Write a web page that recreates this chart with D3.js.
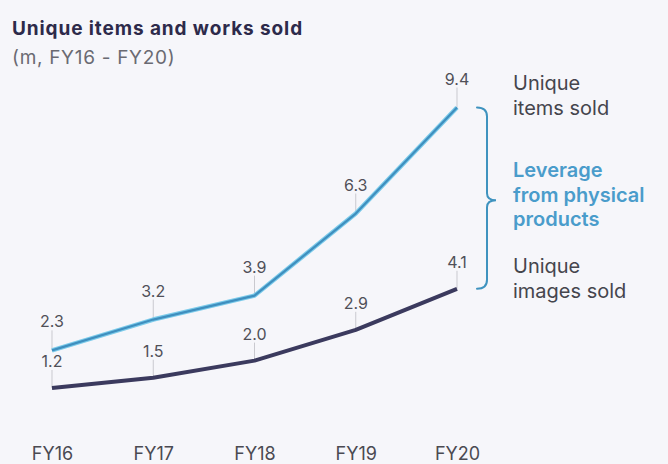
<!DOCTYPE html>
<html>
<head>
<meta charset="utf-8">
<script src="https://cdn.jsdelivr.net/npm/d3@7"></script>
<style>
  html, body { margin: 0; padding: 0; background: #f6f6fa; }
  svg { display: block; font-family: Inter, "Noto Sans", sans-serif; }
</style>
</head>
<body>
<svg id="chart" width="668" height="464"></svg>
<script>
// Fiscal years on the x axis
const years = ["FY16", "FY17", "FY18", "FY19", "FY20"];
// Unique items sold (m)
const itemsSold = [2.3, 3.2, 3.9, 6.3, 9.4];
// Unique images sold (m)
const imagesSold = [1.2, 1.5, 2.0, 2.9, 4.1];

const svg = d3.select("#chart");
const W = 668, H = 464;

svg.append("rect").attr("width", W).attr("height", H).attr("fill", "#f6f6fa");

const x = d3.scalePoint().domain(years).range([52, 457]);
const y = d3.scaleLinear().domain([0, 10]).range([429, 87]);

// Title block
svg.append("text").attr("x", 12).attr("y", 35)
  .attr("font-size", 19).attr("font-weight", 700).attr("fill", "#2d2a4a")
  .attr("letter-spacing", 0.9)
  .text("Unique items and works sold");
svg.append("text").attr("x", 12).attr("y", 64)
  .attr("font-size", 19).attr("fill", "#6a6a72")
  .attr("letter-spacing", 0.7)
  .text("(m, FY16 - FY20)");

// x axis labels (no axis line)
const xAxis = d3.axisBottom(x).tickSize(0).tickPadding(0);
const gx = svg.append("g").attr("transform", "translate(0,446)").call(xAxis);
gx.select(".domain").remove();
gx.selectAll("text")
  .attr("dy", null).attr("y", 14)
  .attr("font-size", 18).attr("fill", "#4a4a52")
  .attr("font-family", "Inter, 'Noto Sans', sans-serif");

// Leader lines and value labels
function labels(values, cls, off) {
  const g = svg.append("g").attr("class", cls);
  g.selectAll("line").data(values).join("line")
    .attr("x1", (d, i) => x(years[i]))
    .attr("x2", (d, i) => x(years[i]))
    .attr("y1", d => y(d) - off + 3)
    .attr("y2", d => y(d))
    .attr("stroke", "#c9c9cf").attr("stroke-width", 1);
  g.selectAll("text").data(values).join("text")
    .attr("x", (d, i) => x(years[i]))
    .attr("y", d => y(d) - off)
    .attr("text-anchor", "middle")
    .attr("font-size", 16).attr("fill", "#505058")
    .text(d => d.toFixed(1));
}
labels(imagesSold, "images-labels", 21);
labels(itemsSold, "items-labels", 23);

const line = d3.line().x((d, i) => x(years[i])).y(d => y(d));

// Images line
svg.append("path").datum(imagesSold).attr("d", line)
  .attr("fill", "none").attr("stroke", "#3b3a5e").attr("stroke-width", 4)
  .attr("stroke-linejoin", "round");

// Items line: light halo with darker core
svg.append("path").datum(itemsSold).attr("d", line)
  .attr("fill", "none").attr("stroke", "#7ccbea").attr("stroke-width", 4.5)
  .attr("stroke-linejoin", "round");
svg.append("path").datum(itemsSold).attr("d", line)
  .attr("fill", "none").attr("stroke", "#3f8fbf").attr("stroke-width", 2.2)
  .attr("stroke-linejoin", "round");

// Curly brace between the two end points
const yTop = y(itemsSold[4]), yBot = y(imagesSold[4]);
const yMid = (yTop + yBot) / 2 + 2;
const bx0 = 477, bx1 = 487, bx2 = 496, r = 9;
const brace = d3.path();
brace.moveTo(bx0, yTop);
brace.quadraticCurveTo(bx1, yTop, bx1, yTop + r);
brace.lineTo(bx1, yMid - 7);
brace.quadraticCurveTo(bx1, yMid, bx2, yMid);
brace.quadraticCurveTo(bx1, yMid, bx1, yMid + 7);
brace.lineTo(bx1, yBot - r);
brace.quadraticCurveTo(bx1, yBot, bx0, yBot);
svg.append("path").attr("d", brace.toString())
  .attr("fill", "none").attr("stroke", "#3f93bf").attr("stroke-width", 2)
  .attr("stroke-linecap", "round");

// Right-hand annotations
function block(lines, y0, opts) {
  const t = svg.append("text").attr("x", 513).attr("y", y0)
    .attr("font-size", 20).attr("fill", opts.fill)
    .attr("font-weight", opts.weight || 400);
  lines.forEach((s, i) => t.append("tspan").attr("x", 513).attr("dy", i ? 24.5 : 0).text(s));
}
block(["Unique", "items sold"], 90, { fill: "#45454d" });
block(["Leverage", "from physical", "products"], 177, { fill: "#4a9ccb", weight: 600 });
block(["Unique", "images sold"], 273, { fill: "#45454d" });
</script>
</body>
</html>
